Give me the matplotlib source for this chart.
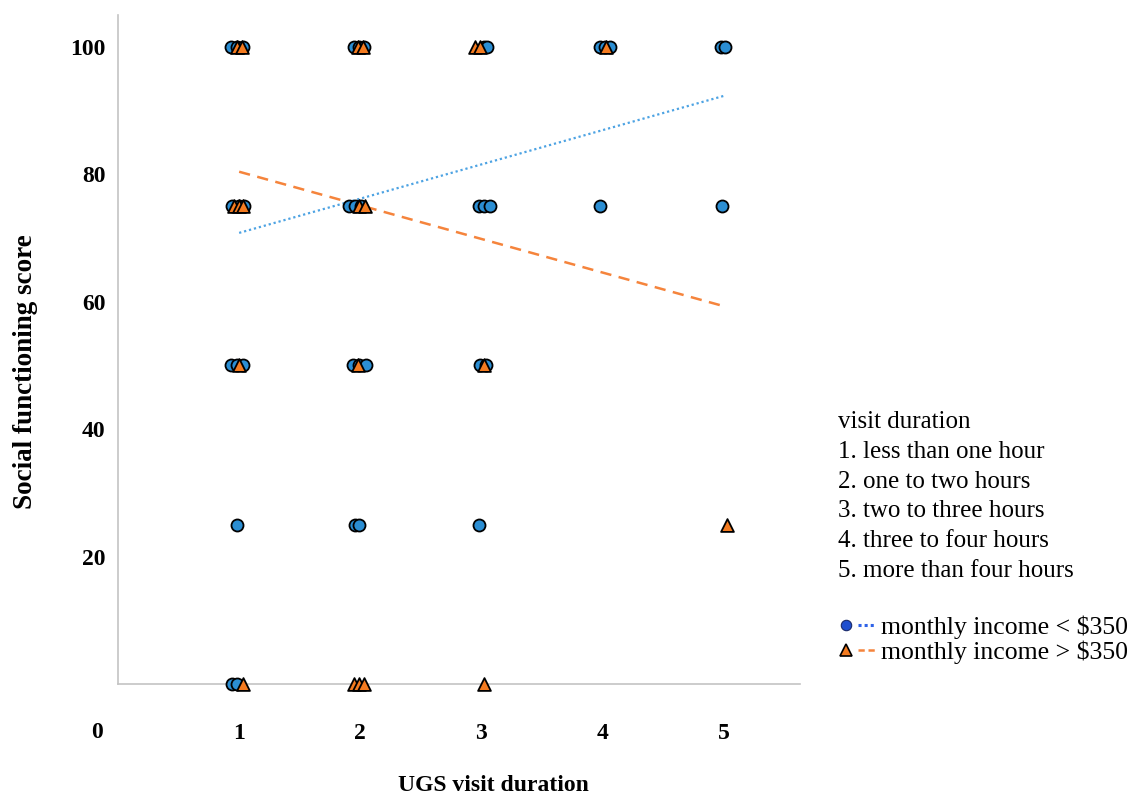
import matplotlib

matplotlib.use("Agg")

import matplotlib.pyplot as plt
from matplotlib.legend_handler import HandlerTuple
from matplotlib.lines import Line2D

plt.rcParams["font.family"] = ["Liberation Serif", "DejaVu Serif"]

# visit duration (1..5, jittered as drawn) and social functioning score
low_x = [0.93, 0.98, 1.03, 1.95, 1.99, 2.03, 3.02, 3.05, 3.98, 4.02, 4.06, 4.98, 5.01,
         0.94, 1.00, 1.04, 1.91, 1.96, 2.01, 2.98, 3.02, 3.07, 3.98, 4.99,
         0.93, 0.98, 1.03, 1.94, 1.99, 2.05, 2.99, 3.04,
         0.98, 1.96, 1.99, 2.98,
         0.94, 0.98]
low_y = [100, 100, 100, 100, 100, 100, 100, 100, 100, 100, 100, 100, 100,
         75, 75, 75, 75, 75, 75, 75, 75, 75, 75, 75,
         50, 50, 50, 50, 50, 50, 50, 50,
         25, 25, 25, 25,
         0, 0]

high_x = [0.98, 1.02, 1.98, 2.02, 2.95, 2.99, 4.03,
          0.96, 1.00, 1.03, 1.99, 2.04,
          1.00, 1.98, 3.02,
          5.03,
          1.03, 1.95, 1.99, 2.03, 3.02]
high_y = [100, 100, 100, 100, 100, 100, 100,
          75, 75, 75, 75, 75,
          50, 50, 50,
          25,
          0, 0, 0, 0, 0]

# fit lines, read at visit duration 1 and 5
fit_x = [1, 5]
low_fit = [70.8, 92.3]
high_fit = [80.4, 59.3]

x_ticks = [1, 2, 3, 4, 5]
y_ticks = [20, 40, 60, 80, 100]
duration_labels = [
    "1. less than one hour",
    "2. one to two hours",
    "3. two to three hours",
    "4. three to four hours",
    "5. more than four hours",
]

BLUE = "#2b8ed3"
ORANGE = "#f47b20"

fig = plt.figure(figsize=(11.38, 7.98), dpi=100)
ax = fig.add_axes([0.1037, 0.1429, 0.5993, 0.8383])

ax.plot(fit_x, low_fit, color="#4da3e3", lw=1.6, linestyle=(0, (1, 1.3)), zorder=2)
ax.plot(fit_x, high_fit, color="#f5843c", lw=1.8, linestyle=(0, (4.5, 3)), zorder=2)

ax.scatter(low_x, low_y, s=75, marker="o", facecolor=BLUE, edgecolor="black",
           linewidths=1.3, zorder=3, clip_on=False)
ax.scatter(high_x, high_y, s=85, marker="^", facecolor=ORANGE, edgecolor="black",
           linewidths=1.3, zorder=4, clip_on=False)

ax.set_xlim(0, 5.63)
ax.set_ylim(0, 105)
ax.set_xticks(x_ticks)
ax.set_yticks(y_ticks)
ax.tick_params(length=0, labelsize=17)
ax.tick_params(axis="x", pad=28)
ax.tick_params(axis="y", pad=9)
for lab in ax.get_xticklabels() + ax.get_yticklabels():
    lab.set_fontweight("bold")
ax.text(-0.022, -0.073, "0", transform=ax.transAxes, fontsize=17, fontweight="bold",
        ha="right", va="center")

for side in ("top", "right"):
    ax.spines[side].set_visible(False)
for side in ("left", "bottom"):
    ax.spines[side].set_color("#c4c4c4")
    ax.spines[side].set_linewidth(1.2)

ax.set_xlabel("UGS visit duration", fontsize=17, fontweight="bold", va="center")
ax.set_ylabel("Social functioning score", fontsize=19.5, fontweight="bold", va="center")
ax.xaxis.set_label_coords(0.55, -0.152)
ax.yaxis.set_label_coords(-0.136, 0.467)

fig.text(838 / 1138, 1 - 411 / 798, "visit duration\n" + "\n".join(duration_labels),
         fontsize=18, va="top", ha="left", linespacing=1.46)

legend_handles = [
    (Line2D([], [], marker="o", linestyle="none", markersize=7.5, markerfacecolor="#1f4fcf",
            markeredgecolor="#1a2a6a", markeredgewidth=0.8),
     Line2D([], [], color="#2f63e8", lw=2.2, linestyle=(0, (1, 1)))),
    (Line2D([], [], marker="^", linestyle="none", markersize=8, markerfacecolor=ORANGE,
            markeredgecolor="black", markeredgewidth=1.2),
     Line2D([], [], color="#f5843c", lw=1.8, linestyle=(0, (2.5, 1.5)))),
]
fig.legend(legend_handles, ["monthly income < $350", "monthly income > $350"],
           handler_map={tuple: HandlerTuple(ndivide=None, pad=0.1)},
           loc="upper left", bbox_to_anchor=(827 / 1138, 1 - 605 / 798),
           frameon=False, fontsize=18.5, handlelength=1.5, handletextpad=0.2,
           labelspacing=0.05, borderaxespad=0)

fig.savefig("out.png", dpi=100)
